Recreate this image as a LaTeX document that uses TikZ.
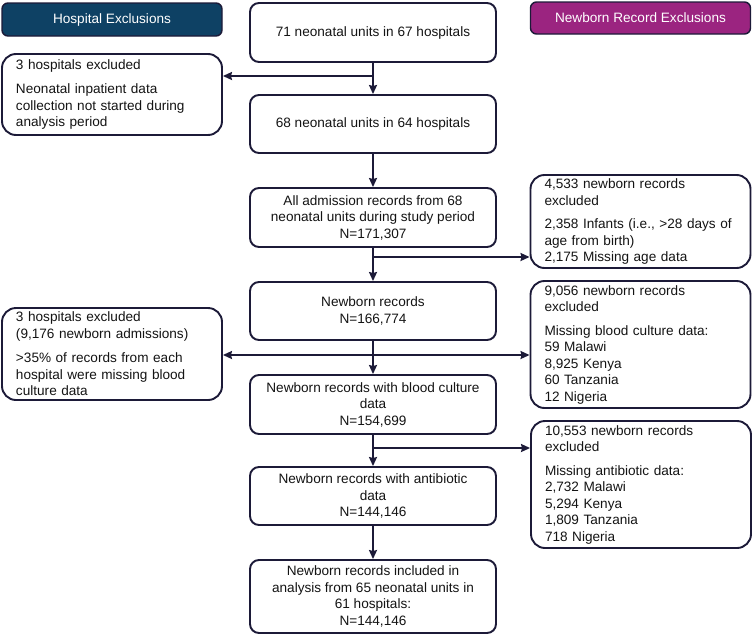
\documentclass[tikz,border=0pt]{standalone}
\usepackage{fontspec}
\setmainfont{Liberation Sans}
\usetikzlibrary{arrows.meta}
\definecolor{hospblue}{HTML}{0E4164}
\definecolor{nbpurple}{HTML}{9B2480}
\definecolor{edgenavy}{HTML}{1C1A38}
\newcommand{\boxfont}{\fontsize{13.6}{16.5}\selectfont}
\tikzset{
	flowbox/.style={draw=edgenavy, line width=1.9pt, rounded corners=9pt, fill=white, align=center, inner sep=0pt, minimum width=246pt, text=black!92, font=\boxfont},
	exbox/.style={draw=edgenavy, line width=1.9pt, rounded corners=14pt, fill=white, align=left, inner xsep=14pt, inner ysep=0pt, text width=192pt, text=black!92, font=\boxfont},
	headbox/.style={draw=edgenavy, line width=1.4pt, rounded corners=6pt, text=white, inner sep=0pt, minimum width=220pt, font=\boxfont},
	flow/.style={draw=edgenavy, line width=1.9pt, -{Stealth[length=9pt,width=8pt,inset=1pt]}},
}

\begin{document}
\begin{tikzpicture}[x=1pt, y=-1pt]
		%%%%% START %%%%%
		\useasboundingbox (0, 0) rectangle (753, 635);
		
		% headers
		\node[headbox, fill=hospblue, minimum height=33pt] (hosphead) at (112, 19.5) {Hospital Exclusions};
		\node[headbox, fill=nbpurple, minimum height=32pt] (nbhead) at (640.5, 18) {Newborn Record Exclusions};
		
		% main flow
		\node[flowbox, minimum height=59pt] (units) at (373, 32.5) {71 neonatal units in 67 hospitals};
		\node[flowbox, minimum height=58pt] (unitskept) at (373, 124) {68 neonatal units in 64 hospitals};
		\node[flowbox, minimum height=59pt] (admissions) at (373, 217.5) {All admission records from 68\\neonatal units during study period\\N=171,307};
		\node[flowbox, minimum height=58pt] (newborn) at (373, 311) {Newborn records\\N=166,774};
		\node[flowbox, minimum height=59pt] (bloodcult) at (373, 404.5) {Newborn records with blood culture\\data\\N=154,699};
		\node[flowbox, minimum height=58pt] (antibiotic) at (373, 496) {Newborn records with antibiotic\\data\\N=144,146};
		\node[flowbox, minimum height=73pt] (included) at (373, 596.5) {Newborn records included in\\analysis from 65 neonatal units in\\61 hospitals:\\N=144,146};
		
		% exclusions
		\node[exbox, minimum height=81pt] (exnotstarted) at (112, 94.5) {3 hospitals excluded\\[8pt]Neonatal inpatient data\\collection not started during\\analysis period};
		\node[exbox, minimum height=93pt] (exage) at (640.5, 221.5) {4,533 newborn records\\excluded\\[7pt]2,358 Infants (i.e., >28 days of\\age from birth)\\2,175 Missing age data};
		\node[exbox, minimum height=127pt] (exblood) at (640.5, 344.5) {9,056 newborn records\\excluded\\[7pt]Missing blood culture data:\\59 Malawi\\8,925 Kenya\\60 Tanzania\\12 Nigeria};
		\node[exbox, minimum height=92pt] (exhosp) at (112, 354) {3 hospitals excluded\\(9,176 newborn admissions)\\[8pt]>35\% of records from each\\hospital were missing blood\\culture data};
		\node[exbox, minimum height=127pt] (exanti) at (641, 484.5) {10,553 newborn records\\excluded\\[7pt]Missing antibiotic data:\\2,732 Malawi\\5,294 Kenya\\1,809 Tanzania\\718 Nigeria};
		
		% branch points
		\coordinate (splitA) at (373, 76);
		\coordinate (splitC) at (373, 257);
		\coordinate (splitD) at (373, 355);
		\coordinate (splitE) at (373, 448);
		
		\draw[flow] (units) -- (unitskept);
		\draw[flow] (unitskept) -- (admissions);
		\draw[flow] (admissions) -- (newborn);
		\draw[flow] (newborn) -- (bloodcult);
		\draw[flow] (bloodcult) -- (antibiotic);
		\draw[flow] (antibiotic) -- (included);
		
		\draw[flow] (splitA) -- (splitA -| exnotstarted.east);
		\draw[flow] (splitC) -- (splitC -| exage.west);
		\draw[flow] (splitD) -- (splitD -| exhosp.east);
		\draw[flow] (splitD) -- (splitD -| exblood.west);
		\draw[flow] (splitE) -- (splitE -| exanti.west);
		
		%%%%% END %%%%%
	\end{tikzpicture}
\end{document}
